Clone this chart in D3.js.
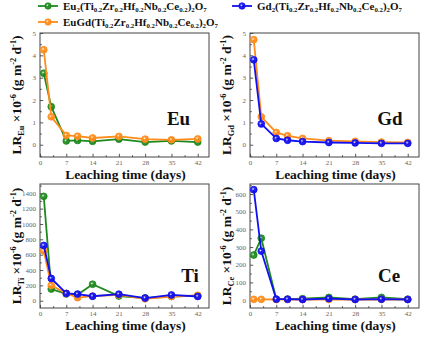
<!DOCTYPE html>
<html><head><meta charset="utf-8">
<script src="https://cdn.jsdelivr.net/npm/d3@7"></script>
<style>body{margin:0;background:#fff}svg{display:block}</style>
</head><body>
<svg id="c" width="423" height="337"></svg>
<script>
const days = [1, 3, 7, 10, 14, 21, 28, 35, 42];
const xTicks = [0, 7, 14, 21, 28, 35, 42];
const xMinor = [3.5, 10.5, 17.5, 24.5, 31.5, 38.5];
const seriesNames = ["Eu2", "EuGd", "Gd2"];
const colors = {Eu2: "#1e8a1e", EuGd: "#ff8c1a", Gd2: "#1010f0"};

// Eu panel
const euEu2  = [3.2, 1.7, 0.17, 0.19, 0.15, 0.25, 0.12, 0.17, 0.12];
const euEuGd = [4.25, 1.25, 0.42, 0.38, 0.3, 0.37, 0.25, 0.22, 0.26];
// Gd panel
const gdGd2  = [3.8, 0.93, 0.28, 0.2, 0.14, 0.1, 0.08, 0.06, 0.06];
const gdEuGd = [4.7, 1.25, 0.55, 0.4, 0.28, 0.18, 0.15, 0.12, 0.1];
// Ti panel
const tiEu2  = [1360, 152, 88, 78, 215, 60, 35, 55, 65];
const tiEuGd = [650, 200, 95, 40, 60, 75, 25, 55, 70];
const tiGd2  = [720, 290, 95, 87, 58, 85, 35, 75, 55];
// Ce panel
const ceEu2  = [255, 350, 5, 5, 8, 15, 5, 15, 5];
const ceEuGd = [4, 4, 3, 3, 3, 3, 3, 3, 3];
const ceGd2  = [625, 277, 5, 5, 3, 8, 3, 5, 3];

const euTicks = [0, 1, 2, 3, 4, 5];
const euMinor = [-0.5, 0.5, 1.5, 2.5, 3.5, 4.5];
const tiTicks = [0, 200, 400, 600, 800, 1000, 1200, 1400];
const tiMinor = [100, 300, 500, 700, 900, 1100, 1300, 1500];
const ceTicks = [0, 100, 200, 300, 400, 500, 600];
const ceMinor = [50, 150, 250, 350, 450, 550, 650];

const panels = [
  {el: "Eu", x0: 40, x1: 209, y0: 33, y1: 157, yd: [-0.55, 5], ticks: euTicks, minor: euMinor, labX: 30.5, labY: 92,
   series: [["Eu2", euEu2], ["EuGd", euEuGd]]},
  {el: "Gd", x0: 250, x1: 419, y0: 33, y1: 157, yd: [-0.55, 5], ticks: euTicks, minor: euMinor, labX: 29, labY: 92,
   series: [["EuGd", gdEuGd], ["Gd2", gdGd2]]},
  {el: "Ti", x0: 40, x1: 209, y0: 184, y1: 308, yd: [-95, 1521], ticks: tiTicks, minor: tiMinor, labX: 19, labY: 98,
   series: [["Eu2", tiEu2], ["EuGd", tiEuGd], ["Gd2", tiGd2]]},
  {el: "Ce", x0: 250, x1: 419, y0: 184, y1: 308, yd: [-45, 657], ticks: ceTicks, minor: ceMinor, labX: 30, labY: 98,
   series: [["Eu2", ceEu2], ["EuGd", ceEuGd], ["Gd2", ceGd2]]}
];

const svg = d3.select("#c");
const serif = "'Liberation Serif','Times New Roman',serif";
const defs = svg.append("defs");
seriesNames.forEach(n => {
  const g = defs.append("radialGradient").attr("id", "g" + n).attr("cx", "40%").attr("cy", "40%").attr("r", "60%");
  g.append("stop").attr("offset", "0%").attr("stop-color", "#fff");
  g.append("stop").attr("offset", "35%").attr("stop-color", colors[n]).attr("stop-opacity", 0.85);
  g.append("stop").attr("offset", "100%").attr("stop-color", colors[n]);
});

function addRich(t, parts, fs) {
  parts.forEach(p => {
    const s = t.append("tspan").text(p[0]);
    if (p[1] === "sub") s.attr("font-size", fs * 0.62).attr("baseline-shift", -fs * 0.22);
    if (p[1] === "sup") s.attr("font-size", fs * 0.62).attr("baseline-shift", fs * 0.38);
  });
}

panels.forEach(p => {
  const x = d3.scaleLinear().domain([0, 45]).range([p.x0, p.x1]);
  const y = d3.scaleLinear().domain(p.yd).range([p.y1, p.y0]);
  const g = svg.append("g");
  // minor ticks (inward)
  const xm = g.append("g").attr("transform", `translate(0,${p.y1})`)
    .call(d3.axisBottom(x).tickValues(xMinor).tickSize(-1.8).tickFormat(""));
  const ym = g.append("g").attr("transform", `translate(${p.x0},0)`)
    .call(d3.axisLeft(y).tickValues(p.minor.filter(v => v > p.yd[0] && v < p.yd[1])).tickSize(-1.8).tickFormat(""));
  const xa = g.append("g").attr("transform", `translate(0,${p.y1})`)
    .call(d3.axisBottom(x).tickValues(xTicks).tickFormat(d3.format("d")).tickSize(-3.2).tickPadding(3.2));
  const ya = g.append("g").attr("transform", `translate(${p.x0},0)`)
    .call(d3.axisLeft(y).tickValues(p.ticks).tickFormat(d3.format("d")).tickSize(-3.2).tickPadding(4));
  [xm, ym, xa, ya].forEach(a => {
    a.select(".domain").remove();
    a.selectAll("line").attr("stroke", "#555");
    a.selectAll("text").attr("font-family", serif).attr("font-size", 7).attr("fill", "#666");
  });
  g.append("rect").attr("x", p.x0).attr("y", p.y0).attr("width", p.x1 - p.x0).attr("height", p.y1 - p.y0)
    .attr("fill", "none").attr("stroke", "#444").attr("stroke-width", 1);
  // x title
  g.append("text").attr("x", (p.x0 + p.x1) / 2 + 1).attr("y", p.y1 + 22)
    .attr("text-anchor", "middle").attr("font-family", serif).attr("font-weight", "bold")
    .attr("font-size", 13.5).attr("fill", "#111").text("Leaching time (days)");
  // y title
  const fs = 13.5;
  const yt = g.append("text").attr("transform", `translate(${p.x0 - 19},${(p.y0 + p.y1) / 2}) rotate(-90)`)
    .attr("text-anchor", "middle").attr("font-family", serif).attr("font-weight", "bold")
    .attr("font-size", fs).attr("fill", "#111");
  addRich(yt, [["LR"], [p.el, "sub"], [" ×10"], ["-6", "sup"], [" (g m"], ["-2", "sup"], [" d"], ["-1", "sup"], [")"]], fs);
  // element label
  g.append("text").attr("x", p.x1 - p.labX).attr("y", p.y0 + p.labY)
    .attr("text-anchor", "middle").attr("font-family", serif).attr("font-weight", "bold")
    .attr("font-size", 19).attr("fill", "#111").text(p.el);
  // series
  const line = d3.line().x((d, i) => x(days[i])).y(d => y(d));
  p.series.forEach(([n, vals]) => {
    g.append("path").datum(vals).attr("d", line).attr("fill", "none")
      .attr("stroke", colors[n]).attr("stroke-width", 1.8);
    g.selectAll(null).data(vals).enter().append("circle")
      .attr("cx", (d, i) => x(days[i])).attr("cy", d => y(d)).attr("r", 3.4)
      .attr("fill", `url(#g${n})`).attr("stroke", colors[n]).attr("stroke-width", 0.8);
  });
});

// legend
const tail = [["(Ti"], ["0.2", "sub"], ["Zr"], ["0.2", "sub"], ["Hf"], ["0.2", "sub"], ["Nb"], ["0.2", "sub"], ["Ce"], ["0.2", "sub"], [")"], ["2", "sub"], ["O"], ["7", "sub"]];
const legend = [
  {n: "Eu2", x: 38, y: 6, parts: [["Eu"], ["2", "sub"]].concat(tail)},
  {n: "Gd2", x: 232, y: 6, parts: [["Gd"], ["2", "sub"]].concat(tail)},
  {n: "EuGd", x: 38, y: 22, parts: [["EuGd"]].concat(tail)}
];
legend.forEach(l => {
  const g = svg.append("g");
  g.append("line").attr("x1", l.x).attr("x2", l.x + 20).attr("y1", l.y).attr("y2", l.y)
    .attr("stroke", colors[l.n]).attr("stroke-width", 1.8);
  g.append("circle").attr("cx", l.x + 10).attr("cy", l.y).attr("r", 3.2)
    .attr("fill", `url(#g${l.n})`).attr("stroke", colors[l.n]).attr("stroke-width", 0.8);
  const t = g.append("text").attr("x", l.x + 25).attr("y", l.y + 3.5).attr("font-family", serif)
    .attr("font-weight", "bold").attr("font-size", 11).attr("fill", "#111");
  addRich(t, l.parts, 11);
});
</script>
</body></html>
